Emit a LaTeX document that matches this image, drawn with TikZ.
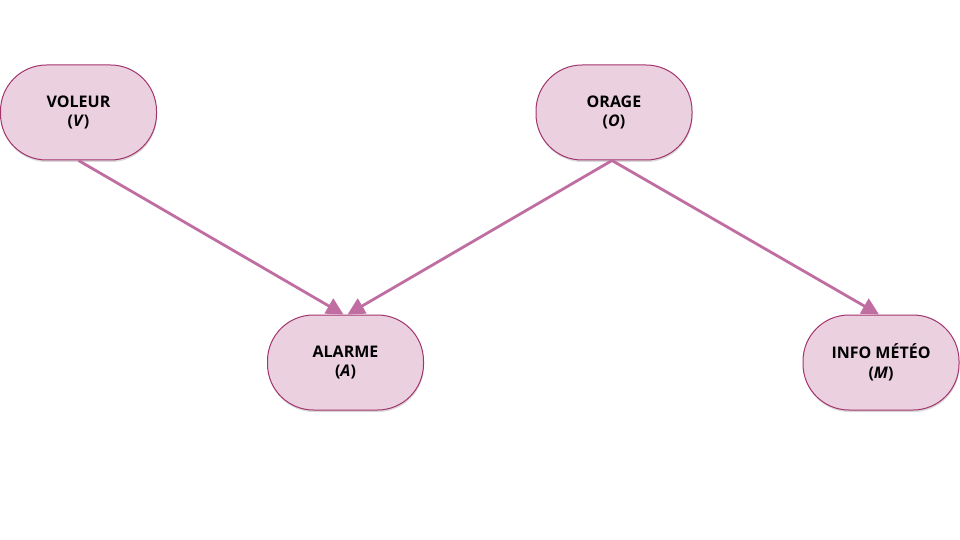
\documentclass[tikz,border=0pt]{standalone}
\usepackage{fontspec}
\setmainfont{Open Sans}
\usetikzlibrary{arrows.meta,shadows}
\definecolor{nodefill}{HTML}{EBD1DF}
\definecolor{nodeborder}{HTML}{A3346E}
\definecolor{arrowcol}{HTML}{C06EA2}
\tikzset{
  var/.style={draw=nodeborder, fill=nodefill, line width=1pt, rounded corners=46pt,
    minimum width=156pt, minimum height=95pt, align=center,
    font=\fontsize{16}{19.5}\selectfont\bfseries,
    drop shadow={shadow xshift=0.5pt, shadow yshift=-2pt, opacity=0.25, fill=black!60}},
  link/.style={draw=arrowcol, line width=2.8pt, -{Triangle[length=17pt,width=17pt]}}
}
\begin{document}
\begin{tikzpicture}[x=1pt,y=1pt]
\useasboundingbox (0,0) rectangle (960,-540);
\node[var] (v) at (78.5,-112.5) {VOLEUR\\(\textit{V})};
\node[var] (o) at (614,-112.5) {ORAGE\\(\textit{O})};
\node[var] (a) at (345.5,-362.5) {ALARME\\(\textit{A})};
\node[var] (m) at (881,-362.5) {INFO MÉTÉO\\(\textit{M})};
\draw[link] (v.south) -- ([xshift=-2pt]a.north);
\draw[link] ([xshift=-2pt]o.south) -- ([xshift=2pt]a.north);
\draw[link] ([xshift=-2pt]o.south) -- ([xshift=-2pt]m.north);
\end{tikzpicture}
\end{document}
